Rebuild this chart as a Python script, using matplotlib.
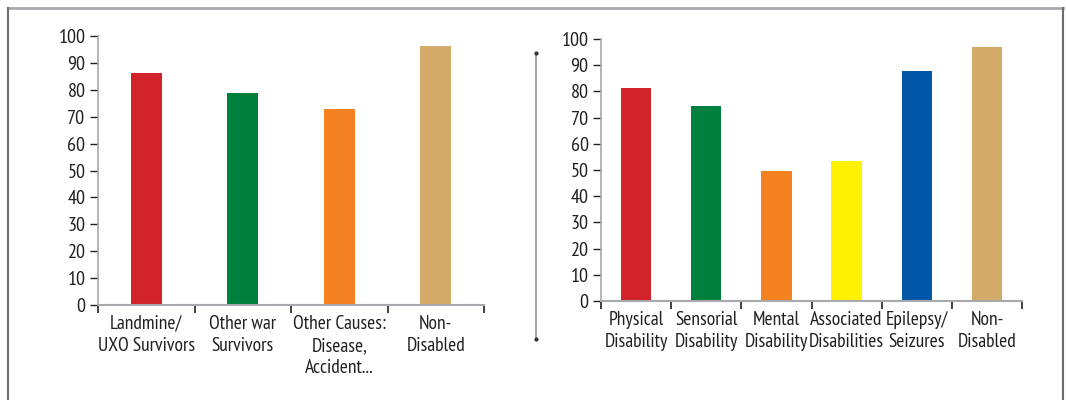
import matplotlib
matplotlib.use("Agg")
import matplotlib.pyplot as plt
from matplotlib.lines import Line2D
from matplotlib import font_manager

left_categories = ["Landmine/\nUXO Survivors", "Other war\nSurvivors",
                   "Other Causes:\nDisease,\nAccident...", "Non-\nDisabled"]
left_values = [86.2, 78.8, 72.9, 96.3]
left_colors = ["#D2232A", "#007F3D", "#F58220", "#D4AA69"]

right_categories = ["Physical\nDisability", "Sensorial\nDisability", "Mental\nDisability",
                    "Associated\nDisabilities", "Epilepsy/\nSeizures", "Non-\nDisabled"]
right_values = [81.2, 74.4, 49.6, 53.4, 87.8, 96.9]
right_colors = ["#D2232A", "#007F3D", "#F58220", "#FFF200", "#0057A8", "#D4AA69"]

y_ticks = list(range(0, 101, 10))

names = {f.name for f in font_manager.fontManager.ttflist}
fam = "DejaVu Sans"
for cand in ["PT Sans Narrow", "Roboto Condensed", "Open Sans Condensed", "Encode Sans Condensed",
             "Asap Condensed", "Archivo Narrow", "IBM Plex Sans Condensed", "Liberation Sans Narrow"]:
    if cand in names:
        fam = cand
        break
plt.rcParams["font.family"] = [fam, "DejaVu Sans"]

W, H = 1066, 400
fig = plt.figure(figsize=(W / 100, H / 100), dpi=100)

def px(x0, y_top, x1, y_bot):
    return [x0 / W, 1 - y_bot / H, (x1 - x0) / W, (y_bot - y_top) / H]

def draw(ax, cats, vals, cols, width):
    n = len(cats)
    xs = list(range(n))
    ax.bar(xs, vals, width=width, color=cols, zorder=2)
    ax.set_xlim(-0.5, n - 0.5)
    ax.set_ylim(0, 100)
    ax.set_yticks(y_ticks)
    ax.set_yticklabels([str(v) for v in y_ticks], fontsize=14.5, color="#231F20")
    ax.set_xticks(xs)
    ax.set_xticklabels(cats, fontsize=14, color="#231F20", linespacing=1.3)
    ax.set_xticks([i - 0.5 for i in range(n + 1)], minor=True)
    ax.tick_params(axis="x", which="major", length=0, pad=7)
    ax.tick_params(axis="x", which="minor", length=6, width=1.2, color="#231F20", direction="out")
    ax.tick_params(axis="y", length=6, width=1.0, color="#231F20", pad=3)
    for s in ["top", "right"]:
        ax.spines[s].set_visible(False)
    ax.spines["left"].set_color("#A7A9AC")
    ax.spines["bottom"].set_color("#A7A9AC")
    ax.spines["left"].set_linewidth(1.2)
    ax.spines["bottom"].set_linewidth(1.5)
    ax.patch.set_alpha(0)

ax1 = fig.add_axes(px(98, 36, 484, 305))
draw(ax1, left_categories, left_values, left_colors, 0.32)
ax2 = fig.add_axes(px(601, 39, 1022, 301))
draw(ax2, right_categories, right_values, right_colors, 0.43)

# outer frame
fig.add_artist(Line2D([8 / W, 1063 / W], [1 - 8 / H, 1 - 8 / H], color="#A7A9AC", lw=2, transform=fig.transFigure))
fig.add_artist(Line2D([8 / W, 8 / W], [1 - 8 / H, 0], color="#6D6E71", lw=1.5, transform=fig.transFigure))
fig.add_artist(Line2D([1063 / W, 1063 / W], [1 - 8 / H, 0], color="#6D6E71", lw=1.5, transform=fig.transFigure))

# divider
fig.add_artist(Line2D([536 / W, 536 / W], [1 - 53 / H, 1 - 339 / H], color="#A7A9AC", lw=1.5,
                      transform=fig.transFigure))
fig.add_artist(Line2D([536 / W, 536 / W], [1 - 53 / H, 1 - 339 / H], color="#333333", lw=0,
                      marker="o", markersize=2, transform=fig.transFigure))

fig.savefig("out.png", dpi=100)
